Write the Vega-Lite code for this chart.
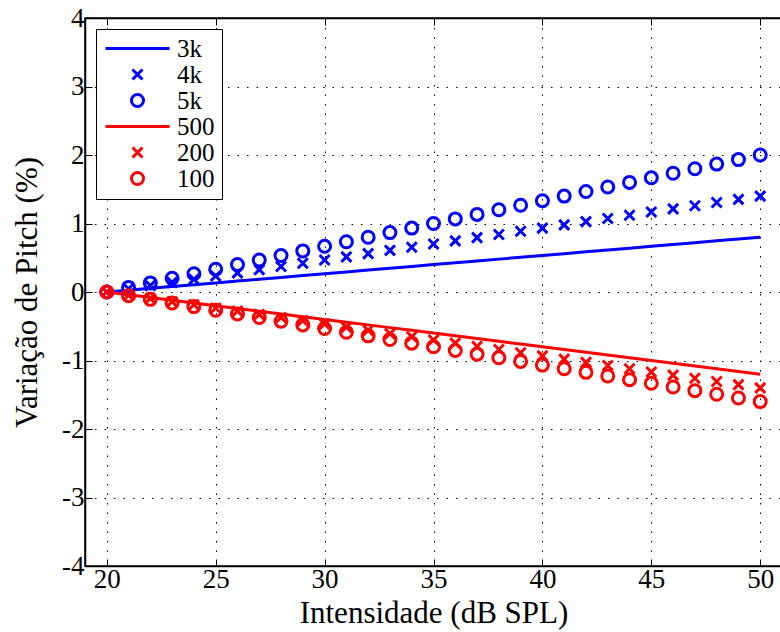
{
  "$schema": "https://vega.github.io/schema/vega-lite/v6.json",
  "width": 697,
  "height": 548,
  "autosize": {"type": "none"},
  "padding": {"left": 85, "top": 18, "right": 0, "bottom": 66},
  "background": "white",
  "config": {
    "font": "Liberation Serif",
    "view": {"stroke": "black", "strokeWidth": 1.5},
    "axis": {
      "domainColor": "black",
      "domainWidth": 1.5,
      "tickColor": "black",
      "tickWidth": 1,
      "tickSize": -7,
      "labelColor": "black",
      "labelFont": "Liberation Serif",
      "labelFontSize": 27,
      "titleFont": "Liberation Serif",
      "titleFontSize": 31,
      "titleFontWeight": "normal",
      "titleColor": "black",
      "gridColor": "black",
      "gridDash": [1.5, 8],
      "gridWidth": 1,
      "gridOpacity": 1
    },
    "legend": {
      "orient": "top-left",
      "offset": 11,
      "padding": 7,
      "strokeColor": "black",
      "strokeWidth": 1,
      "fillColor": "white",
      "cornerRadius": 0,
      "symbolSize": 400,
      "symbolStrokeWidth": 3,
      "symbolOffset": 22,
      "labelFont": "Liberation Serif",
      "labelFontSize": 25,
      "labelColor": "black",
      "labelOffset": 27,
      "rowPadding": -1
    }
  },
  "data": {
    "values": [
      {"x": 20, "3k": 0, "4k": 0, "5k": 0, "500": 0, "200": 0, "100": 0},
      {"x": 21, "3k": 0.027, "4k": 0.047, "5k": 0.067, "500": -0.04, "200": -0.047, "100": -0.053},
      {"x": 22, "3k": 0.053, "4k": 0.093, "5k": 0.133, "500": -0.08, "200": -0.093, "100": -0.107},
      {"x": 23, "3k": 0.08, "4k": 0.14, "5k": 0.2, "500": -0.12, "200": -0.14, "100": -0.16},
      {"x": 24, "3k": 0.107, "4k": 0.187, "5k": 0.267, "500": -0.16, "200": -0.187, "100": -0.213},
      {"x": 25, "3k": 0.133, "4k": 0.233, "5k": 0.333, "500": -0.2, "200": -0.233, "100": -0.267},
      {"x": 26, "3k": 0.16, "4k": 0.28, "5k": 0.4, "500": -0.24, "200": -0.28, "100": -0.32},
      {"x": 27, "3k": 0.187, "4k": 0.327, "5k": 0.467, "500": -0.28, "200": -0.327, "100": -0.373},
      {"x": 28, "3k": 0.213, "4k": 0.373, "5k": 0.533, "500": -0.32, "200": -0.373, "100": -0.427},
      {"x": 29, "3k": 0.24, "4k": 0.42, "5k": 0.6, "500": -0.36, "200": -0.42, "100": -0.48},
      {"x": 30, "3k": 0.267, "4k": 0.467, "5k": 0.667, "500": -0.4, "200": -0.467, "100": -0.533},
      {"x": 31, "3k": 0.293, "4k": 0.513, "5k": 0.733, "500": -0.44, "200": -0.513, "100": -0.587},
      {"x": 32, "3k": 0.32, "4k": 0.56, "5k": 0.8, "500": -0.48, "200": -0.56, "100": -0.64},
      {"x": 33, "3k": 0.347, "4k": 0.607, "5k": 0.867, "500": -0.52, "200": -0.607, "100": -0.693},
      {"x": 34, "3k": 0.373, "4k": 0.653, "5k": 0.933, "500": -0.56, "200": -0.653, "100": -0.747},
      {"x": 35, "3k": 0.4, "4k": 0.7, "5k": 1.0, "500": -0.6, "200": -0.7, "100": -0.8},
      {"x": 36, "3k": 0.427, "4k": 0.747, "5k": 1.067, "500": -0.64, "200": -0.747, "100": -0.853},
      {"x": 37, "3k": 0.453, "4k": 0.793, "5k": 1.133, "500": -0.68, "200": -0.793, "100": -0.907},
      {"x": 38, "3k": 0.48, "4k": 0.84, "5k": 1.2, "500": -0.72, "200": -0.84, "100": -0.96},
      {"x": 39, "3k": 0.507, "4k": 0.887, "5k": 1.267, "500": -0.76, "200": -0.887, "100": -1.013},
      {"x": 40, "3k": 0.533, "4k": 0.933, "5k": 1.333, "500": -0.8, "200": -0.933, "100": -1.067},
      {"x": 41, "3k": 0.56, "4k": 0.98, "5k": 1.4, "500": -0.84, "200": -0.98, "100": -1.12},
      {"x": 42, "3k": 0.587, "4k": 1.027, "5k": 1.467, "500": -0.88, "200": -1.027, "100": -1.173},
      {"x": 43, "3k": 0.613, "4k": 1.073, "5k": 1.533, "500": -0.92, "200": -1.073, "100": -1.227},
      {"x": 44, "3k": 0.64, "4k": 1.12, "5k": 1.6, "500": -0.96, "200": -1.12, "100": -1.28},
      {"x": 45, "3k": 0.667, "4k": 1.167, "5k": 1.667, "500": -1.0, "200": -1.167, "100": -1.333},
      {"x": 46, "3k": 0.693, "4k": 1.213, "5k": 1.733, "500": -1.04, "200": -1.213, "100": -1.387},
      {"x": 47, "3k": 0.72, "4k": 1.26, "5k": 1.8, "500": -1.08, "200": -1.26, "100": -1.44},
      {"x": 48, "3k": 0.747, "4k": 1.307, "5k": 1.867, "500": -1.12, "200": -1.307, "100": -1.493},
      {"x": 49, "3k": 0.773, "4k": 1.353, "5k": 1.933, "500": -1.16, "200": -1.353, "100": -1.547},
      {"x": 50, "3k": 0.8, "4k": 1.4, "5k": 2.0, "500": -1.2, "200": -1.4, "100": -1.6}
    ]
  },
  "transform": [
    {"fold": ["3k", "4k", "5k", "500", "200", "100"], "as": ["s", "y"]}
  ],
  "layer": [
    {
      "transform": [{"filter": {"field": "s", "oneOf": ["3k", "500"]}}],
      "mark": {"type": "line", "strokeWidth": 3, "clip": true},
      "encoding": {
        "x": {
          "field": "x",
          "type": "quantitative",
          "scale": {"domain": [19, 51], "nice": false, "zero": false},
          "axis": {
            "orient": "bottom",
            "values": [20, 25, 30, 35, 40, 45, 50],
            "title": "Intensidade (dB SPL)",
            "grid": true,
            "labelPadding": 7,
            "titlePadding": 6
          }
        },
        "y": {
          "field": "y",
          "type": "quantitative",
          "scale": {"domain": [-4, 4], "nice": false},
          "axis": {
            "values": [-4, -3, -2, -1, 0, 1, 2, 3, 4],
            "labelExpr": "replace(datum.label, '−', '-')",
            "title": "Variação de Pitch (%)",
            "grid": true,
            "labelPadding": 8,
            "titlePadding": 18
          }
        },
        "color": {
          "field": "s",
          "type": "nominal",
          "scale": {
            "domain": ["3k", "4k", "5k", "500", "200", "100"],
            "range": ["#0000ff", "#0000ff", "#0000ff", "#ff0000", "#ff0000", "#ff0000"]
          },
          "legend": {"title": null}
        }
      }
    },
    {
      "transform": [{"filter": {"field": "s", "oneOf": ["4k", "5k", "200", "100"]}}],
      "mark": {"type": "point", "filled": false, "strokeWidth": 3, "size": 400, "opacity": 1, "clip": true},
      "encoding": {
        "x": {
          "field": "x",
          "type": "quantitative",
          "scale": {"domain": [19, 51], "nice": false, "zero": false},
          "axis": {
            "orient": "top",
            "values": [20, 25, 30, 35, 40, 45, 50],
            "labels": false,
            "grid": false,
            "title": null
          }
        },
        "y": {
          "field": "y",
          "type": "quantitative",
          "scale": {"domain": [-4, 4], "nice": false},
          "axis": {
            "values": [-4, -3, -2, -1, 0, 1, 2, 3, 4],
            "labelExpr": "replace(datum.label, '−', '-')",
            "title": "Variação de Pitch (%)",
            "grid": true,
            "labelPadding": 8,
            "titlePadding": 18
          }
        },
        "color": {
          "field": "s",
          "type": "nominal",
          "scale": {
            "domain": ["3k", "4k", "5k", "500", "200", "100"],
            "range": ["#0000ff", "#0000ff", "#0000ff", "#ff0000", "#ff0000", "#ff0000"]
          },
          "legend": {"title": null}
        },
        "shape": {
          "field": "s",
          "type": "nominal",
          "scale": {
            "domain": ["3k", "4k", "5k", "500", "200", "100"],
            "range": [
              "M-3.2,0L3.2,0",
              "M-0.5,-0.5L0.5,0.5M0.5,-0.5L-0.5,0.5",
              "M-0.6,0A0.6,0.6,0,1,0,0.6,0A0.6,0.6,0,1,0,-0.6,0Z",
              "M-3.2,0L3.2,0",
              "M-0.5,-0.5L0.5,0.5M0.5,-0.5L-0.5,0.5",
              "M-0.6,0A0.6,0.6,0,1,0,0.6,0A0.6,0.6,0,1,0,-0.6,0Z"
            ]
          },
          "legend": {"title": null}
        }
      }
    }
  ],
  "resolve": {"axis": {"x": "independent"}}
}
